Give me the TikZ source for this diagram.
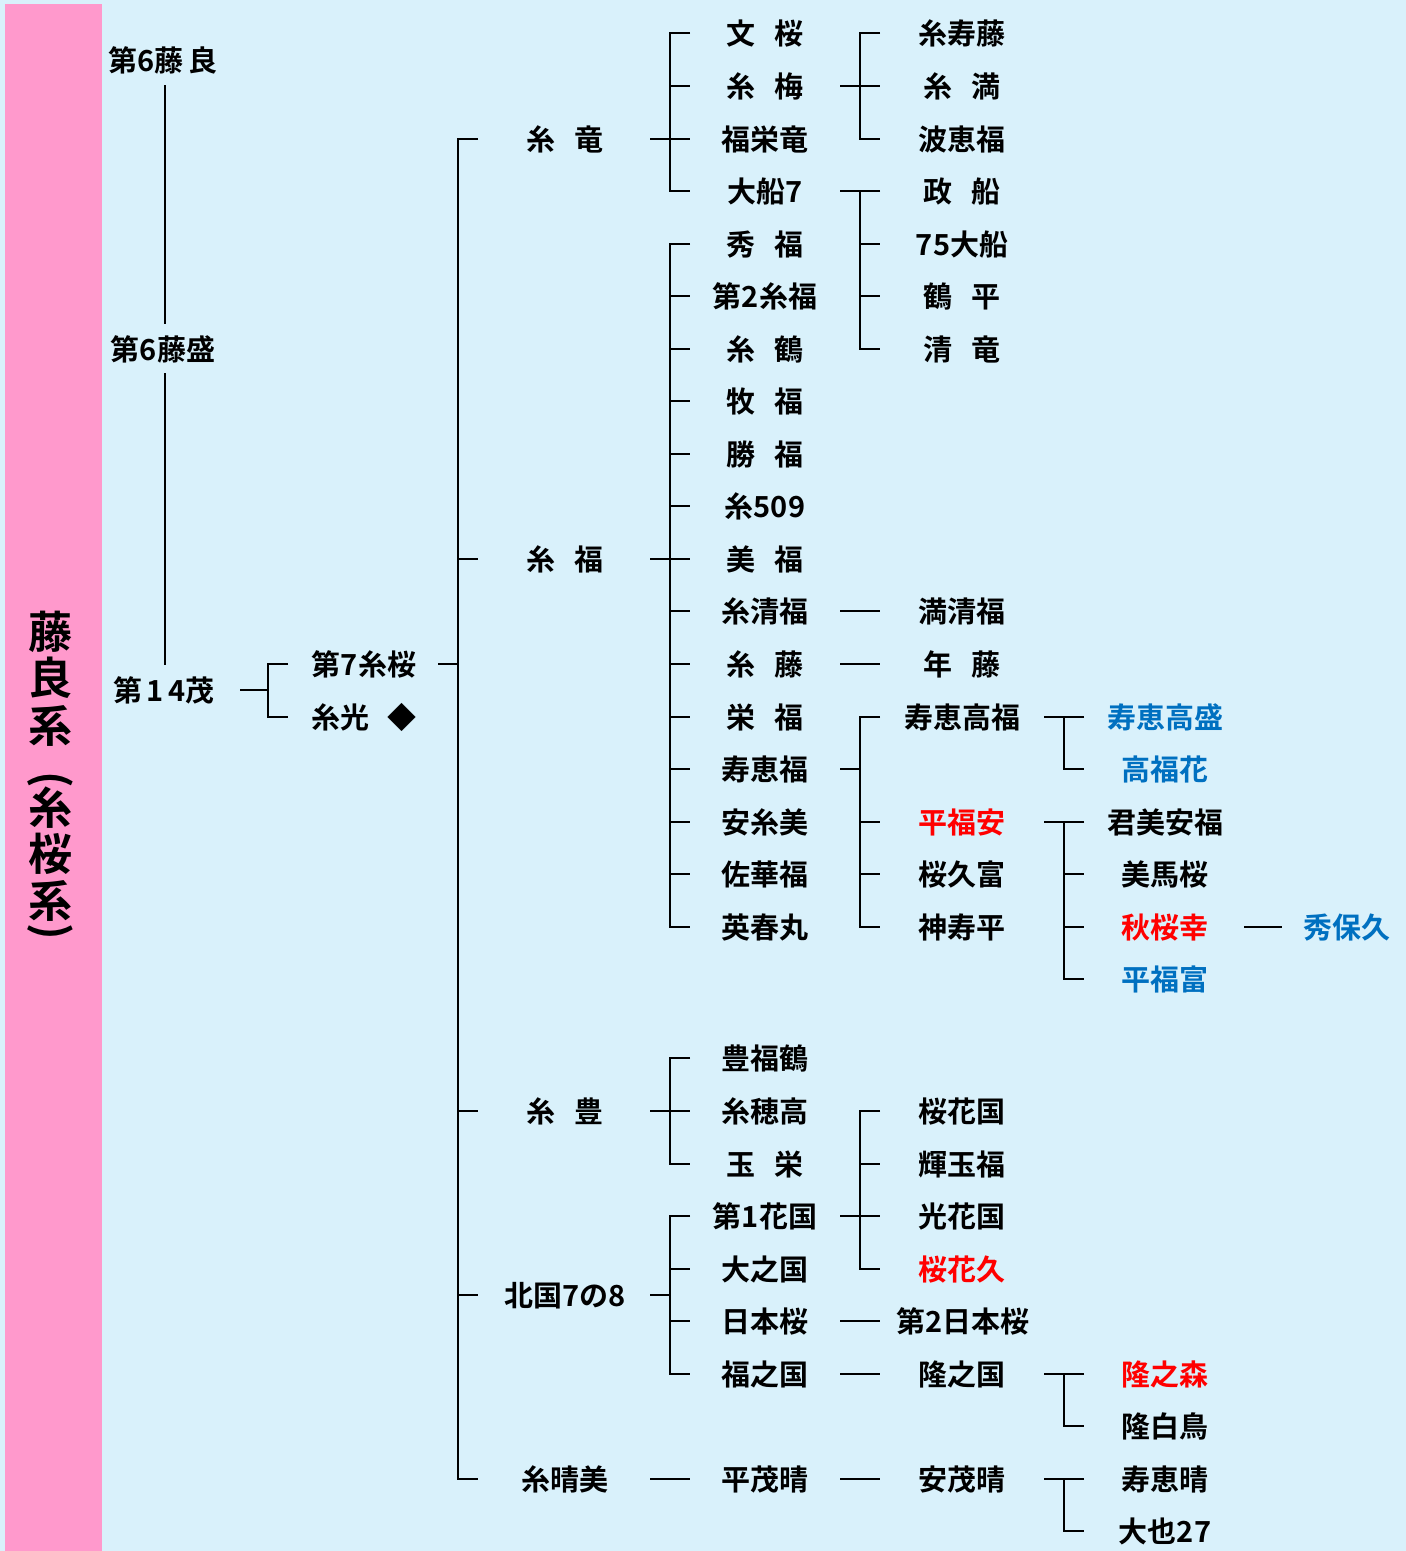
\documentclass[tikz,border=0pt]{standalone}
\usepackage{fontspec}
\newfontfamily\jp{Noto Sans CJK JP}[BoldFont={* Bold}]
\definecolor{bgblue}{RGB}{217,241,251}
\definecolor{barpink}{RGB}{255,153,204}
\definecolor{nred}{RGB}{255,0,0}
\definecolor{nblue}{RGB}{0,112,192}
\newcommand\gp{\hspace{0.65em}}
\newcommand\fork[6]{%
  \draw[ln] (#2,0 |- #1) -- (#3,0 |- #1);
  \draw[ln] (#4,0 |- #5) -- (#3,0 |- #5) -- (#3,0 |- #6) -- (#4,0 |- #6);}
\newcommand\ticks[3]{%
  \foreach \c in {#3} {\draw[ln] (#1,0 |- \c) -- (#2,0 |- \c);}}
\newcommand\link[3]{\draw[ln] (#2,0 |- #1) -- (#3,0 |- #1);}
\begin{document}
\begin{tikzpicture}[x=1pt,y=-1pt,
  nm/.style={font=\jp\bfseries\fontsize{29}{31}\selectfont, inner sep=0pt, text height=22.8pt, text depth=0.8pt, anchor=center},
  big/.style={font=\jp\bfseries\fontsize{44}{46}\selectfont, inner sep=0pt, anchor=center},
  red/.style={text=nred}, blu/.style={text=nblue},
  ln/.style={line width=2pt, black}]
\useasboundingbox (0,0) rectangle (1406,1551);
\fill[bgblue] (0,0) rectangle (1406,1551);
\fill[barpink] (5,4) rectangle (102,1551);
% title in bar
\node[big] (T1) at (50,632) {藤};
\node[big] (T2) at (50,678) {良};
\node[big] (T3) at (50,726) {系};
\node[big,rotate=-90] (T4) at (50,780) {(};
\node[big] (T5) at (50,808) {糸};
\node[big] (T6) at (50,854) {桜};
\node[big] (T7) at (50,901) {系};
\node[big,rotate=-90] (T8) at (50,932) {)};
% column 0
\node[nm] (A1) at (163,60) {第6藤\,良};
\node[nm] (A2) at (163,349) {第6藤盛};
\node[nm] (A3) at (164,690) {第\,1\,4茂};
% column 1
\node[nm] (B1) at (364,664) {第7糸桜};
\node[nm] (B2) at (364,717) {糸光\gp{}◆};
% column 2
\node[nm] (C1) at (565,139) {糸\gp{}竜};
\node[nm] (C2) at (565,559) {糸\gp{}福};
\node[nm] (C3) at (565,1111) {糸\gp{}豊};
\node[nm] (C4) at (565,1295) {北国7の8};
\node[nm] (C5) at (565,1479) {糸晴美};
% column 3
\node[nm] (D1) at (765,33) {文\gp{}桜};
\node[nm] (D2) at (765,86) {糸\gp{}梅};
\node[nm] (D3) at (765,139) {福栄竜};
\node[nm] (D4) at (765,191) {大船7};
\node[nm] (D5) at (765,244) {秀\gp{}福};
\node[nm] (D6) at (765,296) {第2糸福};
\node[nm] (D7) at (765,349) {糸\gp{}鶴};
\node[nm] (D8) at (765,401) {牧\gp{}福};
\node[nm] (D9) at (765,454) {勝\gp{}福};
\node[nm] (D10) at (765,506) {糸509};
\node[nm] (D11) at (765,559) {美\gp{}福};
\node[nm] (D12) at (765,611) {糸清福};
\node[nm] (D13) at (765,664) {糸\gp{}藤};
\node[nm] (D14) at (765,717) {栄\gp{}福};
\node[nm] (D15) at (765,769) {寿恵福};
\node[nm] (D16) at (765,822) {安糸美};
\node[nm] (D17) at (765,874) {佐華福};
\node[nm] (D18) at (765,927) {英春丸};
\node[nm] (D19) at (765,1058) {豊福鶴};
\node[nm] (D20) at (765,1111) {糸穂高};
\node[nm] (D21) at (765,1164) {玉\gp{}栄};
\node[nm] (D22) at (765,1216) {第1花国};
\node[nm] (D23) at (765,1269) {大之国};
\node[nm] (D24) at (765,1321) {日本桜};
\node[nm] (D25) at (765,1374) {福之国};
\node[nm] (D26) at (765,1479) {平茂晴};
% column 4
\node[nm] (E1) at (962,33) {糸寿藤};
\node[nm] (E2) at (962,86) {糸\gp{}満};
\node[nm] (E3) at (962,139) {波恵福};
\node[nm] (E4) at (962,191) {政\gp{}船};
\node[nm] (E5) at (962,244) {75大船};
\node[nm] (E6) at (962,296) {鶴\gp{}平};
\node[nm] (E7) at (962,349) {清\gp{}竜};
\node[nm] (E8) at (962,611) {満清福};
\node[nm] (E9) at (962,664) {年\gp{}藤};
\node[nm] (E10) at (962,717) {寿恵高福};
\node[nm,red] (E11) at (962,822) {平福安};
\node[nm] (E12) at (962,874) {桜久富};
\node[nm] (E13) at (962,927) {神寿平};
\node[nm] (E14) at (962,1111) {桜花国};
\node[nm] (E15) at (962,1164) {輝玉福};
\node[nm] (E16) at (962,1216) {光花国};
\node[nm,red] (E17) at (962,1269) {桜花久};
\node[nm] (E18) at (963,1321) {第2日本桜};
\node[nm] (E19) at (962,1374) {隆之国};
\node[nm] (E20) at (962,1479) {安茂晴};
% column 5
\node[nm,blu] (F1) at (1165,717) {寿恵高盛};
\node[nm,blu] (F2) at (1165,769) {高福花};
\node[nm] (F3) at (1165,822) {君美安福};
\node[nm] (F4) at (1165,874) {美馬桜};
\node[nm,red] (F5) at (1165,927) {秋桜幸};
\node[nm,blu] (F6) at (1165,979) {平福富};
\node[nm,red] (F7) at (1165,1374) {隆之森};
\node[nm] (F8) at (1165,1426) {隆白鳥};
\node[nm] (F9) at (1165,1479) {寿恵晴};
\node[nm] (F10) at (1165,1531) {大也27};
% column 6
\node[nm,blu] (G1) at (1347,927) {秀保久};
% connectors
\draw[ln,shorten <=13pt,shorten >=13pt] ([xshift=2pt]A1.south) -- ([xshift=2pt]A2.north);
\draw[ln,shorten <=12pt,shorten >=13pt] ([xshift=2pt]A2.south) -- ([xshift=1pt]A3.north);
\fork{A3}{240}{268}{288}{B1}{B2}
\fork{B1}{438}{458}{478}{C1}{C5}
\ticks{458}{478}{C2,C3,C4}
\fork{C1}{650}{670}{690}{D1}{D4}
\ticks{670}{690}{D2,D3}
\fork{C2}{650}{670}{690}{D5}{D18}
\ticks{670}{690}{D6,D7,D8,D9,D10,D11,D12,D13,D14,D15,D16,D17}
\fork{C3}{650}{670}{690}{D19}{D21}
\ticks{670}{690}{D20}
\fork{C4}{650}{670}{690}{D22}{D25}
\ticks{670}{690}{D23,D24}
\link{C5}{650}{690}
\fork{D2}{840}{860}{880}{E1}{E3}
\ticks{860}{880}{E2}
\fork{D4}{840}{860}{880}{E4}{E7}
\ticks{860}{880}{E5,E6}
\link{D12}{840}{880}
\link{D13}{840}{880}
\fork{D15}{840}{860}{880}{E10}{E13}
\ticks{860}{880}{E11,E12}
\fork{D22}{840}{860}{880}{E14}{E17}
\ticks{860}{880}{E15,E16}
\link{D24}{840}{880}
\link{D25}{840}{880}
\link{D26}{840}{880}
\fork{E10}{1044}{1064}{1084}{F1}{F2}
\fork{E11}{1044}{1064}{1084}{F3}{F6}
\ticks{1064}{1084}{F4,F5}
\fork{E19}{1044}{1064}{1084}{F7}{F8}
\fork{E20}{1044}{1064}{1084}{F9}{F10}
\link{F5}{1244}{1282}
\end{tikzpicture}
\end{document}
